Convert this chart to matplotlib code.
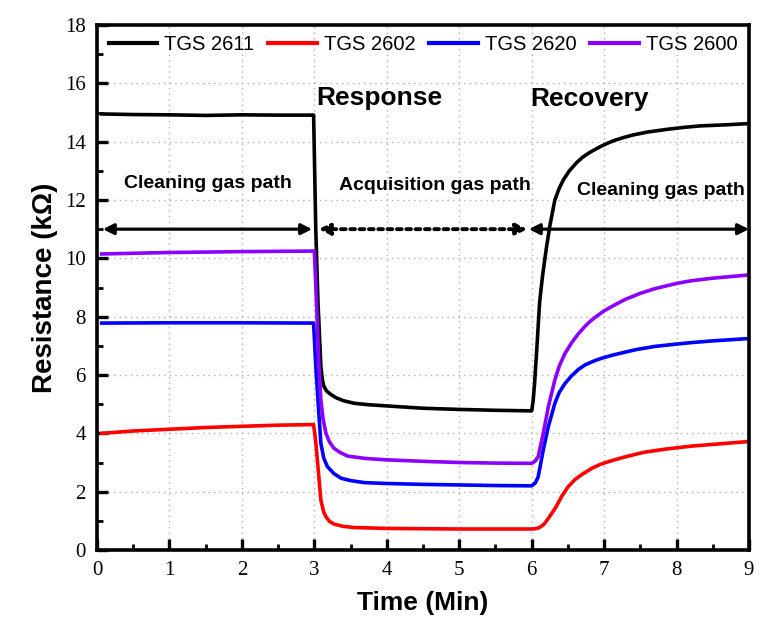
import matplotlib
matplotlib.use("Agg")
import matplotlib.pyplot as plt
from matplotlib.ticker import MultipleLocator

# ---------------- data ----------------
t_2611 = [0.065, 0.5, 1.0, 1.5, 2.0, 2.5, 2.99, 3.02, 3.05, 3.07, 3.09, 3.11, 3.13, 3.17,
          3.23, 3.3, 3.4, 3.55, 3.75, 4.0, 4.5, 5.0, 5.5, 6.0, 6.02, 6.04, 6.07, 6.11, 6.15,
          6.2, 6.25, 6.32, 6.38, 6.44, 6.52, 6.62, 6.7, 6.8, 6.94, 7.05, 7.15, 7.28, 7.4,
          7.6, 7.86, 8.1, 8.32, 8.7, 9.0]
r_2611 = [14.95, 14.93, 14.92, 14.9, 14.92, 14.91, 14.91, 11.0, 8.5, 7.4, 6.3, 5.85, 5.62, 5.45,
          5.33, 5.22, 5.12, 5.03, 4.98, 4.94, 4.86, 4.82, 4.79, 4.77, 5.1, 5.71, 6.86, 8.5, 9.4,
          10.3, 11.1, 12.0, 12.4, 12.7, 13.0, 13.28, 13.46, 13.63, 13.82, 13.95, 14.05, 14.15, 14.23,
          14.33, 14.42, 14.49, 14.54, 14.58, 14.62]

t_2602 = [0.065, 0.5, 1.0, 1.5, 2.0, 2.5, 2.99, 3.02, 3.05, 3.09, 3.13, 3.16, 3.21, 3.27,
          3.4, 3.55, 4.0, 4.5, 5.0, 5.5, 6.0, 6.05, 6.1, 6.17, 6.24, 6.33, 6.42, 6.5, 6.6,
          6.7, 6.83, 6.95, 7.1, 7.3, 7.55, 7.85, 8.2, 8.7, 9.0]
r_2602 = [4.0, 4.08, 4.14, 4.2, 4.24, 4.28, 4.3, 3.7, 2.86, 1.71, 1.3, 1.14, 0.98, 0.89,
          0.81, 0.77, 0.74, 0.73, 0.72, 0.72, 0.72, 0.73, 0.76, 0.88, 1.12, 1.45, 1.86, 2.16, 2.42,
          2.6, 2.8, 2.94, 3.06, 3.2, 3.35, 3.46, 3.56, 3.66, 3.72]

t_2620 = [0.065, 1.0, 2.0, 2.99, 3.02, 3.05, 3.09, 3.13, 3.18, 3.27, 3.37, 3.5, 3.69, 4.0,
          4.5, 5.0, 5.5, 6.0, 6.05, 6.09, 6.12, 6.16, 6.23, 6.32, 6.38, 6.46, 6.55, 6.65, 6.74,
          6.83, 6.9, 7.0, 7.1, 7.2, 7.3, 7.44, 7.7, 8.0, 8.2, 8.5, 9.0]
r_2620 = [7.78, 7.79, 7.79, 7.78, 6.3, 5.14, 3.66, 3.15, 2.86, 2.62, 2.46, 2.38, 2.31, 2.28,
          2.25, 2.23, 2.21, 2.2, 2.3, 2.51, 2.9, 3.43, 4.23, 5.03, 5.4, 5.71, 5.97, 6.2, 6.35,
          6.45, 6.52, 6.6, 6.67, 6.73, 6.79, 6.87, 6.98, 7.06, 7.11, 7.17, 7.25]

t_2600 = [0.065, 1.0, 2.0, 3.0, 3.03, 3.06, 3.09, 3.12, 3.16, 3.21, 3.27, 3.35, 3.46, 3.7,
          4.0, 4.5, 5.0, 5.5, 6.0, 6.05, 6.09, 6.12, 6.16, 6.23, 6.32, 6.38, 6.46, 6.55, 6.65,
          6.74, 6.83, 6.9, 7.0, 7.1, 7.22, 7.3, 7.5, 7.7, 8.0, 8.2, 8.5, 9.0]
r_2600 = [10.15, 10.2, 10.23, 10.25, 8.5, 6.5, 5.14, 4.5, 4.0, 3.7, 3.49, 3.35, 3.22, 3.14,
          3.09, 3.04, 3.0, 2.98, 2.97, 3.05, 3.2, 3.55, 4.0, 4.91, 5.83, 6.3, 6.74, 7.1, 7.43,
          7.68, 7.89, 8.02, 8.2, 8.34, 8.5, 8.6, 8.8, 8.96, 9.14, 9.23, 9.32, 9.43]

series_names = ["TGS 2611", "TGS 2602", "TGS 2620", "TGS 2600"]
series_colors = ["#000000", "#FF0000", "#0000FF", "#8B00FF"]

x_ticks = [0, 1, 2, 3, 4, 5, 6, 7, 8, 9]
y_ticks = [0, 2, 4, 6, 8, 10, 12, 14, 16, 18]

# ---------------- figure ----------------
plt.rcParams['font.family'] = ['Liberation Sans', 'DejaVu Sans']
fig = plt.figure(figsize=(7.8, 6.35), dpi=100)
ax = fig.add_axes([97 / 780, 1 - 550 / 635, (749 - 97) / 780, (550 - 25) / 635])

data = [(t_2611, r_2611), (t_2602, r_2602), (t_2620, r_2620), (t_2600, r_2600)]
for (tt, rr), name, col in zip(data, series_names, series_colors):
    ax.plot(tt, rr, color=col, lw=2.6, label=name, solid_joinstyle='round')

ax.set_xlim(0, 9)
ax.set_ylim(0, 18)
ax.set_xticks(x_ticks)
ax.set_yticks(y_ticks)
ax.xaxis.set_minor_locator(MultipleLocator(0.5))
ax.yaxis.set_minor_locator(MultipleLocator(1))
ax.grid(True, which='major', linestyle=(0, (1, 3)), color='#B0B0B0', lw=1.0)

for s in ax.spines.values():
    s.set_linewidth(2.6)
ax.tick_params(which='major', direction='in', length=8, width=2.4, top=False, right=False,
               labelsize=15, pad=8)
ax.tick_params(which='minor', direction='in', length=4, width=2.0, top=False, right=False)
for lab in ax.get_xticklabels() + ax.get_yticklabels():
    lab.set_fontfamily('Liberation Serif')

ax.set_xlabel("Time (Min)", fontsize=19, fontweight='bold', labelpad=8)
ax.set_ylabel("Resistance (kΩ)", fontsize=20, fontweight='bold', labelpad=5)

leg = ax.legend(loc='center', bbox_to_anchor=(0.5, 0.962), ncol=4, frameon=False,
                fontsize=14.5, handlelength=2.4, handletextpad=0.35, columnspacing=0.7,
                borderaxespad=0)
for h in leg.get_lines():
    h.set_linewidth(3)

# annotations
ax.text(3.02, 15.5, "Response", fontsize=19, fontweight='bold', ha='left', va='center')
ax.text(5.98, 15.45, "Recovery", fontsize=19, fontweight='bold', ha='left', va='center')
ax.text(1.53, 12.58, "Cleaning gas path", fontsize=14, fontweight='bold', ha='center', va='center')
ax.text(4.67, 12.48, "Acquisition gas path", fontsize=14, fontweight='bold', ha='center', va='center')
ax.text(7.79, 12.34, "Cleaning gas path", fontsize=14, fontweight='bold', ha='center', va='center')

arrow_kw = dict(arrowstyle='<|-|>', color='black', lw=2.3, mutation_scale=16,
                shrinkA=0, shrinkB=0)
ax.annotate("", xy=(0.08, 11.0), xytext=(2.97, 11.0), arrowprops=arrow_kw)
ax.annotate("", xy=(3.06, 11.0), xytext=(5.94, 11.0),
            arrowprops=dict(arrow_kw, linestyle=(0, (1.2, 1.2)), lw=2.8))
ax.annotate("", xy=(5.96, 11.0), xytext=(9.0, 11.0), arrowprops=arrow_kw)

fig.savefig("out.png", dpi=100)
